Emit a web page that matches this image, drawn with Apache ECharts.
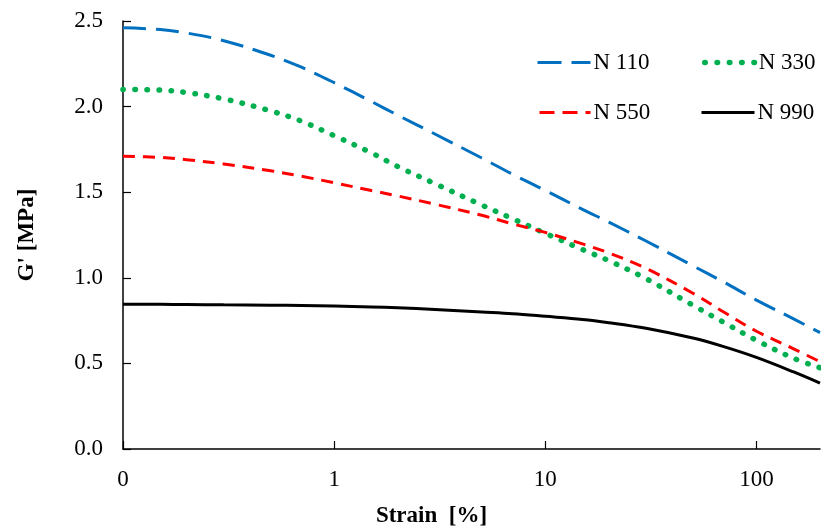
<!DOCTYPE html>
<html>
<head>
<meta charset="utf-8">
<script src="https://cdn.jsdelivr.net/npm/echarts@6/dist/echarts.min.js"></script>
<style>
html,body{margin:0;padding:0;background:#fff;}
#c{width:821px;height:528px;}
</style>
</head>
<body>
<div id="c"></div>
<script>
const strain = [0.1, 0.15, 0.2, 0.3, 0.5, 0.7, 1, 1.5, 2, 3, 5, 7, 10, 15, 20, 30, 50, 70, 100, 150, 200];
const n110 = [2.46, 2.45, 2.43, 2.385, 2.30, 2.23, 2.14, 2.03, 1.95, 1.84, 1.70, 1.605, 1.51, 1.40, 1.325, 1.215, 1.07, 0.975, 0.87, 0.76, 0.68];
const n330 = [2.10, 2.097, 2.082, 2.045, 1.975, 1.915, 1.83, 1.73, 1.65, 1.55, 1.425, 1.345, 1.26, 1.165, 1.10, 0.995, 0.84, 0.74, 0.635, 0.53, 0.475];
const n550 = [1.71, 1.703, 1.69, 1.665, 1.625, 1.593, 1.555, 1.51, 1.478, 1.43, 1.365, 1.315, 1.265, 1.198, 1.145, 1.055, 0.91, 0.80, 0.688, 0.585, 0.51];
const n990 = [0.846, 0.845, 0.844, 0.842, 0.84, 0.838, 0.835, 0.83, 0.825, 0.815, 0.80, 0.79, 0.775, 0.757, 0.738, 0.705, 0.648, 0.598, 0.535, 0.45, 0.385];
const seriesNames = ['N 110', 'N 330', 'N 550', 'N 990'];
const yTicks = [0, 0.5, 1.0, 1.5, 2.0, 2.5];

const FONT = 'Liberation Serif';
const FS = 23;
function pairs(ys){ return strain.map((s,i)=>[s, ys[i]]); }

const colors = ['#0070C0', '#00B050', '#FF0000', '#000000'];
const lineStyles = [
  {color: colors[0], width: 3, type: [23, 10]},
  {color: colors[1], width: 5.5, type: [0.5, 11.5], cap: 'round'},
  {color: colors[2], width: 3, type: [12, 8]},
  {color: colors[3], width: 3}
];
const legendLineStyles = [
  {width: 3, type: [24, 10]},
  {width: 5.5, type: [0.5, 11.8], cap: 'round', dashOffset: -2},
  {width: 3, type: [15, 8]},
  {width: 3, type: 'solid'}
];
const legendPos = [[536, 51], [700, 51], [536, 101], [700, 101]];

const chart = echarts.init(document.getElementById('c'), null, {renderer:'canvas'});
chart.setOption({
  animation: false,
  backgroundColor: '#fff',
  grid: {left: 123, right: 1, top: 21, bottom: 79, containLabel: false, outerBoundsMode: 'none'},
  legend: seriesNames.map((n, i) => ({
    data: [n], left: legendPos[i][0], top: legendPos[i][1], orient: 'horizontal',
    itemWidth: 53, itemHeight: 14, padding: 0,
    itemStyle: {opacity: 0},
    lineStyle: legendLineStyles[i],
    textStyle: {fontFamily: FONT, fontSize: FS, color: '#000', padding: [0, 0, 0, -2]}
  })),
  xAxis: {
    type: 'log', logBase: 10, min: 0.1, max: 200,
    name: 'Strain  [%]', nameLocation: 'middle', nameGap: 56,
    nameTextStyle: {fontFamily: FONT, fontSize: FS, fontWeight: 'bold', color: '#000', padding: [0, 80, 0, 0]},
    axisLine: {lineStyle: {color: '#000', width: 1.5}},
    axisTick: {inside: true, length: 8, lineStyle: {color: '#000', width: 1.2}},
    axisLabel: {fontFamily: FONT, fontSize: FS, color: '#000', margin: 19, showMaxLabel: false,
      formatter: v => v < 0.5 ? '0' : (v > 150 ? '' : String(Math.round(v)))},
    splitLine: {show: false},
    minorTick: {show: false}
  },
  yAxis: {
    type: 'value', min: yTicks[0], max: yTicks[yTicks.length-1], interval: 0.5,
    name: "G' [MPa]", nameLocation: 'middle', nameGap: 84, nameRotate: 90,
    nameTextStyle: {fontFamily: FONT, fontSize: FS, fontWeight: 'bold', color: '#000'},
    axisLine: {show: true, lineStyle: {color: '#000', width: 1.5}},
    axisTick: {show: true, inside: true, length: 8, lineStyle: {color: '#000', width: 1.2}},
    axisLabel: {fontFamily: FONT, fontSize: FS, color: '#000', margin: 20, padding: [4, 0, 0, 0], formatter: v => v.toFixed(1)},
    splitLine: {show: false}
  },
  series: [n110, n330, n550, n990].map((ys, i) => ({
    name: seriesNames[i], type: 'line', data: pairs(ys), smooth: 0.35,
    symbol: 'none', showSymbol: false,
    lineStyle: lineStyles[i], itemStyle: {color: colors[i]}
  }))
});
</script>
</body>
</html>
